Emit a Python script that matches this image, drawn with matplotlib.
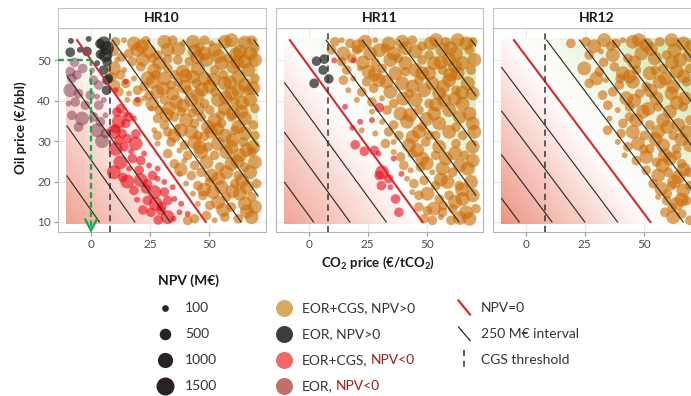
import numpy as np
import matplotlib
matplotlib.use("Agg")
import matplotlib.pyplot as plt
from matplotlib.colors import LinearSegmentedColormap, TwoSlopeNorm

plt.rcParams['font.family'] = ['Lato', 'DejaVu Sans']
plt.rcParams['mathtext.fontset'] = 'custom'
plt.rcParams['mathtext.rm'] = 'Lato'
plt.rcParams['mathtext.bf'] = 'Lato:bold'

# ---------------- data ----------------
panels = ["HR10", "HR11", "HR12"]
# NPV=0 line: CO2 price where it meets oil price 55, slope (oil per CO2), CO2 spacing of 250 M€ lines
npv0_x_at_top = [-5.9, -8.0, -5.0]
npv0_slope = [0.826, 0.80, 0.778]
interval_dx = [15.0, 15.4, 13.9]
interval_musd = 250
cgs_threshold = 8.0
x_ticks = [0, 25, 50]
y_ticks = [10, 20, 30, 40, 50]

# points: (CO2 price, oil price, |NPV| M€)
hr10_eorcgs_pos = [
    (10.4,54.6,180),(14.0,55.0,30),(18.2,54.2,500),(23.2,54.8,180),(31.1,54.6,500),(34.6,55.0,180),(38.9,54.2,30),
    (43.2,54.6,500),(48.1,55.0,180),(51.0,54.2,30),(56.7,54.6,500),(59.5,55.0,500),(65.2,54.4,500),(68.1,55.0,180),
    (9.7,52.2,180),(16.1,51.7,180),(19.7,52.6,500),(24.6,52.2,500),(28.2,51.3,180),(32.5,52.6,500),(43.9,52.2,500),
    (48.1,51.7,500),(52.4,52.6,500),(63.1,52.2,500),(67.4,51.7,500),(69.5,53.0,180),
    (11.1,50.1,30),(17.5,49.7,180),(26.1,50.5,180),(28.9,49.3,500),(36.8,50.1,180),(41.7,49.7,180),(48.9,50.1,500),
    (55.3,49.3,500),(58.1,50.5,180),(65.2,49.7,500),(69.5,50.1,500),
    (9.7,48.0,500),(14.0,47.6,30),(21.1,48.4,180),(26.8,47.6,500),(32.5,48.0,180),(38.9,47.2,500),(45.3,48.0,500),
    (52.4,47.6,180),(60.3,48.4,500),(66.7,47.6,500),
    (9.0,45.9,180),(12.5,46.4,180),(18.2,45.5,30),(27.5,46.4,180),(31.1,45.5,500),(35.3,46.4,180),(43.2,45.9,500),
    (48.1,45.5,500),(56.0,46.4,180),(62.4,45.9,500),(69.5,45.5,180),
    (10.4,43.9,180),(14.7,44.3,180),(22.5,43.5,180),(26.1,44.7,500),(33.9,43.9,180),(39.6,43.5,500),(44.6,44.3,180),
    (50.3,43.5,500),(56.7,44.3,500),(65.2,43.9,500),(68.8,43.1,500),
    (11.8,42.2,180),(16.1,41.8,30),(19.7,42.6,180),(24.6,41.4,180),(28.2,42.2,500),(34.6,41.8,500),(41.0,42.6,180),
    (45.3,41.4,500),(52.4,42.2,180),(59.5,41.8,500),(66.7,42.6,180),
    (15.4,40.2,30),(19.7,39.7,180),(22.5,40.6,30),(31.1,40.2,180),(36.0,39.7,500),(42.5,40.2,500),(48.1,39.3,180),
    (53.8,40.2,500),(61.0,39.7,180),(67.4,40.2,500),
    (25.4,38.1,30),(28.9,37.7,180),(33.2,38.1,500),(38.2,37.3,180),(45.3,38.1,500),(50.3,37.7,180),(56.7,38.1,500),
    (63.8,37.3,500),(69.5,38.1,180),
    (28.2,35.6,180),(35.3,36.0,180),(40.3,35.2,500),(46.7,36.0,180),(52.4,35.2,500),(59.5,36.0,180),(65.2,35.6,500),
    (31.1,34.0,180),(36.8,33.5,30),(43.9,34.4,180),(49.6,33.5,500),(55.3,34.4,180),(62.4,33.5,500),(68.8,34.0,180),
    (26.8,32.7,30),(28.2,31.4,180),(32.5,32.3,180),(35.3,31.4,500),(42.5,32.3,500),(45.3,31.4,180),(51.0,32.3,500),
    (56.7,31.4,500),(61.0,32.7,180),(65.2,31.9,500),(69.5,31.4,180),
    (28.2,29.4,30),(33.9,29.8,180),(39.6,29.0,180),(43.9,29.8,500),(49.6,28.6,180),(53.8,29.4,500),(59.5,28.6,500),
    (64.5,29.8,180),(68.8,28.6,500),
    (32.5,26.9,180),(37.5,27.7,30),(41.0,26.5,180),(46.7,27.3,500),(52.4,26.5,180),(57.4,27.3,500),(63.1,26.5,500),
    (68.1,27.3,180),
    (35.3,24.4,180),(39.6,25.2,30),(43.9,24.0,180),(48.9,24.8,500),(54.6,23.6,180),(59.5,24.4,500),(65.2,23.6,180),
    (69.5,24.8,500),
    (37.5,21.9,30),(42.5,21.5,180),(46.7,22.3,180),(51.0,21.5,500),(57.4,22.3,500),(62.4,21.5,180),(67.4,22.3,500),
    (40.3,19.5,30),(45.3,19.0,180),(50.3,19.9,180),(55.3,18.6,500),(61.0,19.5,180),(66.0,18.6,500),(70.2,19.5,180),
    (43.2,17.0,30),(47.4,16.6,180),(51.7,17.4,500),(57.4,16.2,180),(63.1,17.0,500),(68.1,16.2,180),
    (45.3,14.5,30),(50.3,14.1,180),(53.8,14.9,500),(59.5,13.7,180),(65.2,14.5,500),(69.5,13.7,500),
    (41.0,10.4,180),(43.9,10.8,180),(48.9,11.6,180),(52.4,10.4,30),(56.7,11.2,180),(62.4,10.8,180),(68.1,11.2,500),
    (21.5,53.5,500),(37.0,52.8,500),(46.0,53.2,180),(54.0,51.0,500),(61.5,51.5,500),(13.0,50.8,180),(22.0,50.2,500),
    (32.5,50.3,180),(45.0,50.8,500),(62.0,49.5,500),(24.0,45.6,500),(40.0,46.2,500),(52.0,45.2,500),(59.0,44.5,500),
    (30.5,43.0,500),(37.0,44.5,180),(47.0,42.8,500),(62.5,42.5,500),(26.0,39.2,500),(39.0,38.8,500),(57.0,40.8,500),
    (64.0,39.5,500),(32.0,36.5,500),(43.0,37.0,180),(60.0,37.0,500),(55.0,36.5,180),(38.0,32.7,500),(48.0,31.2,180),
    (53.5,33.0,500),(60.0,30.3,500),(46.0,28.5,500),(66.0,27.8,500),(38.0,23.0,500),(62.0,25.0,500),(54.0,20.8,500),
    (64.0,20.2,500),(48.0,18.0,500),(60.0,17.6,500),(66.0,12.6,500),(56.0,13.0,500),
]
hr10_eor_pos = [
    (-8.5,54.8,30),(-1.0,55.3,30),(-8.8,52.0,180),(-1.7,52.2,180),(5.4,54.2,500),(6.8,53.0,500),(6.1,51.3,500),
    (4.0,51.5,180),(6.8,49.7,180),(5.4,47.6,180),(6.8,45.1,180),(6.6,42.6,180),(2.6,49.3,30),(-4.7,52.6,30),
    (3.8,54.1,180),(7.4,45.5,180),
]
hr10_eorcgs_neg = [
    (14.7,44.7,30),(10.4,42.6,30),(19.7,40.2,30),(12.5,38.0,180),(16.1,36.0,180),(11.8,34.8,500),(14.7,34.4,180),
    (18.2,35.6,30),(10.4,33.1,180),
    (9.7,32.3,500),(13.2,31.9,180),(11.8,30.2,180),(15.4,30.6,180),(18.9,29.4,500),(10.4,28.1,500),(14.0,28.6,180),
    (22.5,26.9,30),(12.5,24.8,500),(17.5,25.7,180),(21.1,25.2,180),(24.6,24.0,30),(9.7,22.3,500),(16.1,23.2,30),
    (20.4,22.8,180),(26.1,21.5,180),(28.2,23.2,30),(15.4,20.0,500),(21.1,20.3,500),(23.9,19.5,180),(28.2,20.7,30),
    (31.1,19.9,30),(18.2,17.8,180),(23.2,18.2,180),(26.8,17.4,500),(31.1,17.4,180),(34.6,18.6,30),(23.9,15.3,180),
    (27.5,14.5,500),(32.5,15.3,180),(35.3,15.7,30),(38.2,14.5,30),(25.4,12.4,180),(29.6,12.8,180),(32.5,11.2,500),
    (37.5,12.4,30),(41.0,12.0,30),
    (11.0,37.2,180),(14.5,36.6,30),(19.0,31.8,180),(17.0,27.5,30),(13.5,21.0,180),(19.5,15.5,30),(22.0,13.0,180),
    (28.5,10.5,180),(35.0,10.8,30),(30.0,13.8,180),
]
hr10_eor_neg = [
    (-8.8,47.2,180),(-6.0,46.4,180),(-8.1,45.5,180),(1.1,45.1,180),(3.3,43.9,180),(-8.8,42.6,500),(-5.3,41.8,180),
    (-0.3,41.4,180),(2.6,41.0,30),(-9.5,39.3,30),(-6.7,39.7,180),(-2.4,38.9,180),(3.3,38.9,180),(5.4,40.2,30),
    (-8.1,36.4,180),(-3.8,35.6,500),(1.1,36.0,180),(4.0,34.8,180),(6.1,36.4,30),(-5.3,33.5,180),
    (2.6,32.7,500),(4.7,30.0,500),(6.1,31.9,180),(-7.0,49.5,180),(-3.5,48.0,180),(0.5,47.5,30),
]

hr11_eorcgs_pos = [
    (11.1,54.6,180),(14.0,55.0,30),(17.5,54.2,180),(23.9,54.6,500),(28.2,55.0,30),(33.9,54.2,500),(39.6,54.6,500),
    (43.9,55.0,180),(51.7,54.2,500),(58.1,54.6,180),(63.1,55.0,500),(66.7,54.2,500),(69.5,54.6,180),
    (9.7,52.6,180),(14.7,51.7,500),(20.4,52.6,180),(26.1,51.7,500),(32.5,53.0,180),(36.0,51.7,500),(45.3,52.2,500),
    (51.0,51.3,180),(56.7,52.6,500),(62.4,51.7,500),(68.1,52.6,180),
    (14.0,49.7,180),(18.2,50.5,180),(28.2,49.3,180),(34.6,50.1,500),(41.0,49.3,500),(48.1,50.1,180),(53.1,49.3,500),
    (59.5,50.1,500),(65.2,49.3,500),(70.2,50.1,500),
    (16.1,47.6,180),(21.8,48.0,30),(25.4,47.2,500),(31.1,48.0,180),(36.8,46.8,500),(45.3,47.6,500),(51.0,46.8,500),
    (56.7,47.6,180),(63.1,46.8,500),(68.8,47.6,180),
    (14.7,45.1,180),(18.9,45.5,30),(24.6,44.7,180),(29.6,45.1,500),(39.6,44.3,500),(46.7,45.1,180),(52.4,44.3,500),
    (59.5,45.1,500),(67.4,44.3,500),
    (16.8,42.6,30),(22.5,42.2,180),(27.5,43.1,180),(34.6,42.2,500),(42.5,41.8,180),(48.9,42.6,500),(55.3,41.8,500),
    (62.4,42.6,180),(69.5,41.8,500),
    (20.4,40.2,30),(26.8,39.7,180),(31.1,40.6,30),(36.0,39.3,180),(45.3,40.2,500),(51.0,39.3,180),(57.4,40.2,500),
    (65.2,39.3,500),
    (26.8,37.3,30),(33.2,37.7,180),(38.9,36.8,500),(46.7,37.7,180),(53.1,36.8,500),(59.5,37.7,500),(68.1,36.8,500),
    (31.1,34.8,30),(36.0,34.0,180),(41.7,34.8,500),(48.1,33.5,180),(55.3,34.4,500),(62.4,33.5,180),(69.5,34.4,500),
    (22.5,32.7,30),(28.2,31.9,30),(33.9,32.3,180),(38.2,31.4,180),(46.7,32.3,500),(53.8,31.4,180),(59.5,32.3,500),
    (65.2,31.4,180),(70.2,32.3,500),
    (32.5,29.4,180),(36.0,29.8,30),(42.5,29.0,500),(49.6,29.8,180),(55.3,28.6,500),(62.4,29.4,180),(69.5,28.6,500),
    (36.0,27.3,30),(38.9,26.1,180),(43.9,26.9,180),(48.1,25.7,500),(53.8,26.5,180),(58.1,25.7,500),(66.0,26.5,180),
    (69.5,25.2,500),
    (40.3,24.0,180),(43.2,22.8,30),(47.4,23.6,180),(52.4,22.3,30),(56.7,23.2,500),(61.0,22.3,180),(67.4,23.2,500),
    (41.7,20.7,30),(44.6,19.5,180),(48.9,20.3,180),(53.8,19.0,180),(58.8,19.9,500),(63.8,19.0,180),(68.8,19.9,500),
    (43.9,17.4,30),(46.7,16.6,180),(50.3,17.0,500),(55.3,15.7,180),(59.5,16.6,180),(65.2,15.7,500),(69.5,16.6,500),
    (46.7,13.7,180),(50.3,12.8,180),(53.1,13.3,500),(56.7,12.4,180),(61.0,13.3,180),(66.7,12.4,500),(70.9,13.3,180),
    (48.9,10.8,180),(52.4,10.4,180),(56.0,11.2,30),(60.3,10.4,180),(68.1,10.8,500),
    (21.0,53.5,500),(30.0,52.5,500),(41.0,53.0,500),(48.0,53.5,180),(54.0,55.0,500),(60.0,53.0,500),(23.0,49.5,500),
    (38.0,50.5,180),(56.0,49.5,500),(62.0,48.5,500),(28.0,46.5,500),(41.0,47.2,180),(48.0,46.8,500),(60.0,46.5,500),
    (33.0,44.7,500),(44.0,43.5,500),(57.0,43.5,500),(65.0,42.0,500),(40.0,40.5,500),(54.0,39.0,500),(62.0,40.5,500),
    (43.0,36.5,500),(50.0,35.5,500),(64.0,36.0,500),(44.0,31.0,500),(51.0,31.5,180),(46.0,27.8,500),(62.0,27.0,500),
    (50.0,24.5,500),(64.0,24.0,500),(56.0,20.5,500),(65.0,18.0,500),(62.0,15.0,500),(57.0,14.0,180),(64.0,11.0,500),
]
hr11_eor_pos = [(3.3,49.8,180),(6.6,50.3,180),(6.1,47.6,180),(2.3,44.3,180),(8.5,45.4,180)]
hr11_eorcgs_neg = [
    (10.8,50.0,30),(19.0,50.0,30),(15.4,38.5,30),(29.9,38.3,180),(21.8,34.8,30),(26.8,35.2,30),(18.5,33.3,30),
    (19.7,29.1,180),(23.6,27.5,180),(27.8,27.7,180),(29.6,26.9,30),(31.1,22.3,500),(29.9,21.5,180),(33.9,20.7,180),
    (30.8,19.0,180),(34.6,18.6,30),(36.8,15.7,180),(38.2,12.4,180),(36.0,25.7,30),(39.3,21.9,30),
]
hr11_eor_neg = []

hr12_eorcgs_pos = [
    (19.1,54.2,180),(25.5,54.6,180),(33.3,55.0,500),(38.3,54.2,180),(41.2,55.0,30),(45.4,54.6,500),(51.1,53.8,500),
    (56.8,54.6,180),(61.8,55.0,500),(66.8,54.2,500),(69.6,53.8,180),
    (26.9,51.3,180),(31.9,52.2,30),(36.9,51.3,500),(43.3,50.5,180),(49.0,51.7,500),(54.7,50.5,500),(59.7,51.3,180),
    (65.4,50.1,500),(69.6,51.3,500),
    (24.8,48.0,500),(31.2,47.2,180),(37.6,48.4,180),(41.2,46.8,500),(46.9,47.6,180),(52.6,46.8,500),(58.3,48.0,180),
    (64.0,47.2,500),(69.6,48.0,180),
    (26.9,44.3,180),(34.0,45.1,30),(39.7,43.9,180),(45.4,44.7,500),(51.1,43.5,180),(56.8,44.7,500),(62.5,43.5,500),
    (68.2,44.7,180),
    (32.6,41.4,180),(36.9,42.2,180),(42.6,40.6,500),(48.3,41.8,180),(55.4,40.6,500),(61.8,41.8,500),(67.5,40.6,500),
    (34.8,38.9,180),(39.0,37.7,30),(44.0,38.5,180),(49.7,37.3,500),(56.1,38.5,180),(61.1,37.3,500),(66.8,38.5,180),
    (35.5,35.6,30),(41.2,34.4,180),(46.9,35.2,500),(52.6,34.0,180),(58.3,35.2,500),(64.7,34.0,500),(69.6,35.2,180),
    (34.7,32.7,180),(40.4,31.9,180),(45.4,32.3,500),(50.4,31.4,180),(56.1,32.3,500),(62.5,31.4,180),(68.2,32.3,500),
    (39.0,29.8,30),(43.3,28.6,180),(47.6,29.4,500),(52.5,28.1,180),(58.2,29.0,500),(63.9,28.1,180),(69.6,29.0,500),
    (41.9,26.5,30),(46.9,25.2,180),(51.1,26.1,500),(55.4,24.8,180),(61.1,25.7,500),(66.1,24.4,180),
    (51.1,22.8,180),(56.1,21.5,500),(60.4,22.3,180),(64.7,21.1,500),(69.0,22.3,180),
    (54.0,19.5,180),(57.5,18.2,500),(61.8,19.0,180),(66.8,17.8,500),(69.6,19.0,180),
    (56.1,16.2,30),(59.7,15.3,180),(64.0,14.5,500),(68.2,15.3,180),
    (59.0,12.4,180),(62.5,11.2,500),(66.1,12.0,180),(69.6,10.4,180),
    (29.0,53.5,500),(36.0,53.5,180),(48.0,55.0,500),(53.0,52.8,500),(63.0,52.5,500),(33.0,49.5,180),(46.0,49.5,500),
    (62.0,49.5,500),(44.0,46.0,500),(55.0,47.5,180),(67.0,46.0,500),(30.0,45.5,500),(40.0,45.5,180),(53.0,42.5,500),
    (59.0,45.5,500),(46.0,40.0,500),(64.0,39.5,500),(52.0,38.0,500),(44.0,36.0,180),(60.0,33.5,500),(55.0,30.5,500),
    (66.0,30.5,500),(50.0,28.0,180),(59.0,26.5,500),(64.0,26.5,180),(58.0,24.0,500),(67.0,23.0,500),(63.0,20.0,500),
    (60.0,17.0,180),(66.0,15.5,500),(62.0,13.5,180),
]
hr12_eor_pos = []
hr12_eorcgs_neg = []
hr12_eor_neg = []

panel_points = [
    (hr10_eorcgs_pos, hr10_eor_pos, hr10_eorcgs_neg, hr10_eor_neg),
    (hr11_eorcgs_pos, hr11_eor_pos, hr11_eorcgs_neg, hr11_eor_neg),
    (hr12_eorcgs_pos, hr12_eor_pos, hr12_eorcgs_neg, hr12_eor_neg),
]
category_labels = ["EOR+CGS, NPV>0", "EOR, NPV>0", "EOR+CGS,", "EOR,"]
size_breaks = [100, 500, 1000, 1500]

# ---------------- styles ----------------
cat_colors = ['#CC6A05', '#1E1E1E', '#E8101A', '#7A2A38']
cat_alpha = [0.6, 0.7, 0.62, 0.48]
cat_legend_colors = ['#DBA95C', '#3B3F3A', '#F06868', '#C07068']
W, H = 691, 396
plot_size_scale = 1.2

def diam_px(v):
    return 2.76 + 0.394 * np.sqrt(np.asarray(v, float))

def px_rect(x0, y0, x1, y1):
    return [x0 / W, 1 - y1 / H, (x1 - x0) / W, (y1 - y0) / H]

fig = plt.figure(figsize=(W / 100, H / 100), dpi=100)

xlim = (-14, 74)
ylim = (7.6, 58.0)
zero_px = [91, 308.7, 525.7]
sx = 2.36
top_px, bot_px = 28.0, 231.7

cmap = LinearSegmentedColormap.from_list('npv', ['#EE9482', '#FFFFFF', '#CFE4AC'])
norm = TwoSlopeNorm(vmin=-1150, vcenter=0, vmax=1350)
gx = np.linspace(-10.5, 70.8, 200)
gy = np.linspace(9.5, 55.5, 120)
GX, GY = np.meshgrid(gx, gy)

for i, name in enumerate(panels):
    x0 = zero_px[i] + xlim[0] * sx
    x1 = zero_px[i] + xlim[1] * sx
    ax = fig.add_axes(px_rect(x0, top_px, x1, bot_px))
    sax = fig.add_axes(px_rect(x0, 7.5, x1, 27.5))
    sax.set_xticks([]); sax.set_yticks([])
    for sp in sax.spines.values():
        sp.set_color('#c4c4c4'); sp.set_linewidth(0.8)
    sax.text(0.5, 0.5, name, ha='center', va='center', fontsize=10, fontweight='bold',
             color='#1a1a1a', transform=sax.transAxes)

    ax.set_xlim(*xlim); ax.set_ylim(*ylim)
    ax.set_xticks(x_ticks); ax.set_yticks(y_ticks)
    ax.set_axisbelow(True)
    ax.grid(color='#e8e8e8', lw=0.8)
    for sp in ax.spines.values():
        sp.set_color('#b5b5b5'); sp.set_linewidth(0.8)
    ax.tick_params(axis='both', length=3, color='#9a9a9a', labelsize=8.5, labelcolor='#4d4d4d', pad=2)
    if i > 0:
        ax.tick_params(axis='y', left=False, labelleft=False)

    xt, s, dx = npv0_x_at_top[i], npv0_slope[i], interval_dx[i]
    npv = interval_musd / dx * (GX - (xt + (55 - GY) / s))
    ax.imshow(npv, extent=[gx[0], gx[-1], gy[0], gy[-1]], origin='lower', cmap=cmap, norm=norm,
              aspect='auto', zorder=1, interpolation='bilinear')

    for c, pts in enumerate(panel_points[i]):
        if not pts:
            continue
        a = np.array(pts, float)
        d = diam_px(a[:, 2]) * plot_size_scale
        ax.scatter(a[:, 0], a[:, 1], s=(d * 0.72) ** 2, color=cat_colors[c], alpha=cat_alpha[c],
                   linewidths=0, zorder=2)

    xmin, xmax = -10.2, 70.8
    for k in range(-7, 8):
        xk = xt + k * dx
        ya = 55 - (xmin - xk) * s
        yb = 55 - (xmax - xk) * s
        lo, hi = max(10, yb), min(55, ya)
        if lo >= hi:
            continue
        yy = np.array([lo, hi])
        xx = xk + (55 - yy) / s
        if k == 0:
            ax.plot(xx, yy, color='#D42A2A', lw=1.5, zorder=4)
        else:
            ax.plot(xx, yy, color='#262626', lw=0.8, zorder=3)

    ax.axvline(cgs_threshold, color='#333333', lw=1.1, ls=(0, (4, 3)), zorder=5)

    if i == 0:
        g = '#1AA64C'
        ax.plot([xlim[0], 0], [50, 50], color=g, lw=1.7, ls=(0, (2.5, 1.5)), zorder=6, clip_on=False)
        ax.plot([0, 0], [50, 8.4], color=g, lw=1.7, ls=(0, (2.5, 1.5)), zorder=6, clip_on=False)
        ax.plot([-2.4, 0, 2.4], [10.6, 7.9, 10.6], color=g, lw=1.7, zorder=6, clip_on=False,
                solid_joinstyle='miter')

# axis titles
fig.text(21 / W, 1 - 128 / H, "Oil price (€/bbl)", rotation=90, ha='center', va='center',
         fontsize=9.5, fontweight='bold', color='#1a1a1a')
fig.text(378 / W, 1 - 263 / H, r"CO$_\mathbf{2}$ price (€/tCO$_\mathbf{2}$)", ha='center', va='center',
         fontsize=9.5, fontweight='bold', color='#1a1a1a')

# legend overlay
lax = fig.add_axes([0, 0, 1, 1], zorder=10)
lax.set_xlim(0, W); lax.set_ylim(H, 0); lax.axis('off')
rows = [308, 334, 360, 386]
lab_col = '#333333'
fs = 10
lax.text(158, 281, "NPV (M€)", ha='left', va='center', fontsize=10, fontweight='bold', color='#1a1a1a')
for r, v in zip(rows, size_breaks):
    d = diam_px(v)
    lax.scatter([165], [r], s=(d * 0.72) ** 2, color='#2B2323', linewidths=0)
    lax.text(185, r, str(v), ha='left', va='center', fontsize=fs, color=lab_col)

fig.canvas.draw()
renderer = fig.canvas.get_renderer()
for c, r in enumerate(rows):
    lax.scatter([284.5], [r], s=(17 * 0.72) ** 2, color=cat_legend_colors[c], linewidths=0)
    t = lax.text(302, r, category_labels[c], ha='left', va='center', fontsize=fs, color=lab_col)
    if c >= 2:
        bb = t.get_window_extent(renderer=renderer)
        x_end = bb.x1 * W / fig.bbox.width
        lax.text(x_end + 3.5, r, "NPV<0", ha='left', va='center', fontsize=fs, color='#9B1C1C')

lax.plot([458.5, 470], [300.5, 314.5], color='#D42A2A', lw=1.6)
lax.text(481, 308, "NPV=0", ha='left', va='center', fontsize=fs, color=lab_col)
lax.plot([458.5, 470], [327, 340.5], color='#262626', lw=0.9)
lax.text(481, 334, "250 M€ interval", ha='left', va='center', fontsize=fs, color=lab_col)
lax.plot([464, 464], [350, 370], color='#333333', lw=1.1, ls=(0, (4, 3)))
lax.text(481, 360, "CGS threshold", ha='left', va='center', fontsize=fs, color=lab_col)

fig.savefig("out.png", dpi=100)
